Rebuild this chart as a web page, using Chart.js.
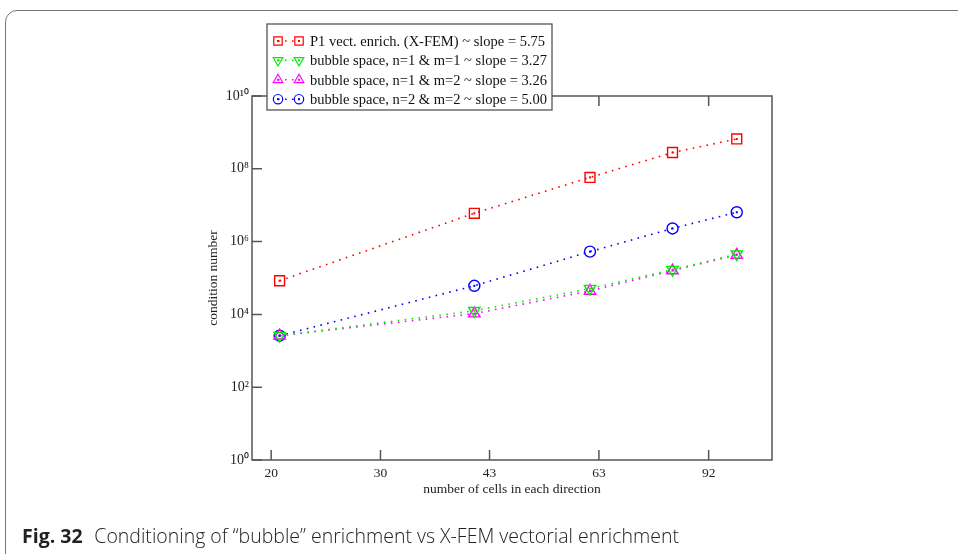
<!DOCTYPE html>
<html>
<head>
<meta charset="utf-8">
<script src="https://cdn.jsdelivr.net/npm/chart.js@4.4.0/dist/chart.umd.min.js"></script>
<style>
  body { margin: 0; background: #fff; }
  #wrap { position: relative; width: 958px; height: 554px; overflow: hidden; }
  #frame { position: absolute; left: 5px; top: 10px; width: 1000px; height: 600px; border: 1.5px solid #777; border-radius: 12px; }
  #box { position: absolute; left: 0; top: 0; width: 958px; height: 554px; }
  #caption { position: absolute; left: 22px; top: 522px; font-family: "Open Sans", sans-serif; font-size: 20px; font-weight: 300; color: #222; white-space: nowrap; transform: scaleX(0.975); transform-origin: left center; }
  #caption b { font-weight: 700; margin-right: 12px; }
</style>
</head>
<body>
<div id="wrap">
  <div id="frame"></div>
  <div id="box"><canvas id="condChart"></canvas></div>
  <div id="caption"><b>Fig. 32</b>Conditioning of “bubble” enrichment vs X-FEM vectorial enrichment</div>
</div>
<script>
const cells = [21, 41, 61, 81, 101];
const xfemP1 = [8.4e4, 6.0e6, 5.8e7, 2.8e8, 6.6e8];
const bubble11 = [2.6e3, 1.26e4, 5.1e4, 1.7e5, 4.5e5];
const bubble12 = [2.6e3, 1.05e4, 4.4e4, 1.6e5, 4.3e5];
const bubble22 = [2.6e3, 6.1e4, 5.3e5, 2.3e6, 6.4e6];

const seriesLabels = [
  'P1 vect. enrich. (X-FEM) ~ slope = 5.75',
  'bubble space, n=1 & m=1 ~ slope = 3.27',
  'bubble space, n=1 & m=2 ~ slope = 3.26',
  'bubble space, n=2 & m=2 ~ slope = 5.00'
];

const xTickValues = [20.4, 29.7, 43.2, 62.9, 91.7];
const xTickLabels = ['20', '30', '43', '63', '92'];
const yTickValues = [1, 1e2, 1e4, 1e6, 1e8, 1e10];
const yTickLabels = ['10⁰', '10²', '10⁴', '10⁶', '10⁸', '10¹⁰'];

const serif = 'Liberation Serif';

function makeSet(label, values, color, style, radius, rotation) {
  return {
    label: label,
    data: cells.map((c, i) => ({ x: c, y: values[i] })),
    borderColor: color,
    backgroundColor: 'rgba(0,0,0,0)',
    borderWidth: 1.6,
    borderDash: [1.6, 5.4],
    tension: 0,
    pointStyle: style,
    pointRadius: radius,
    pointRotation: rotation,
    pointBorderColor: color,
    pointBackgroundColor: 'rgba(0,0,0,0)',
    pointBorderWidth: 1.4
  };
}

// small marker helper for the legend
function marker(ctx, style, rotation, r, x, y) {
  ctx.beginPath();
  if (style === 'rect') {
    const s = Math.SQRT1_2 * r;
    ctx.rect(x - s, y - s, 2 * s, 2 * s);
  } else if (style === 'circle') {
    ctx.arc(x, y, r, 0, Math.PI * 2);
  } else {
    const dir = rotation ? -1 : 1;
    ctx.moveTo(x, y - dir * r);
    ctx.lineTo(x + r * 0.866, y + dir * r * 0.5);
    ctx.lineTo(x - r * 0.866, y + dir * r * 0.5);
    ctx.closePath();
  }
  ctx.stroke();
}

const frameAndLegend = {
  id: 'frameAndLegend',
  afterDatasetsDraw(chart) {
    const { ctx, chartArea: a, scales: { x, y } } = chart;
    ctx.save();

    // dot in the middle of each marker
    chart.data.datasets.forEach((ds, i) => {
      ctx.fillStyle = ds.borderColor;
      chart.getDatasetMeta(i).data.forEach(p => ctx.fillRect(p.x - 1, p.y - 1, 2, 2));
    });

    // box and inward ticks
    ctx.strokeStyle = '#555';
    ctx.lineWidth = 1.5;
    ctx.strokeRect(a.left, a.top, a.right - a.left, a.bottom - a.top);
    ctx.beginPath();
    y.ticks.forEach(t => {
      const py = y.getPixelForValue(t.value);
      ctx.moveTo(a.left, py); ctx.lineTo(a.left + 10, py);
    });
    x.ticks.forEach(t => {
      const px = x.getPixelForValue(t.value);
      ctx.moveTo(px, a.bottom); ctx.lineTo(px, a.bottom - 10);
      ctx.moveTo(px, a.top); ctx.lineTo(px, a.top + 10);
    });
    ctx.stroke();

    // legend box
    const lx = 267, ly = 24, lw = 285, lh = 86;
    ctx.fillStyle = '#fff';
    ctx.fillRect(lx, ly, lw, lh);
    ctx.strokeStyle = '#555';
    ctx.lineWidth = 1.3;
    ctx.strokeRect(lx, ly, lw, lh);
    chart.data.datasets.forEach((ds, i) => {
      const ry = ly + 17 + i * 19.4;
      ctx.strokeStyle = ds.borderColor;
      ctx.lineWidth = 1.6;
      ctx.setLineDash(ds.borderDash);
      ctx.beginPath(); ctx.moveTo(lx + 11, ry); ctx.lineTo(lx + 32, ry); ctx.stroke();
      ctx.setLineDash([]);
      ctx.lineWidth = 1.2;
      [lx + 11, lx + 32].forEach(mx => {
        marker(ctx, ds.pointStyle, ds.pointRotation, ds.pointRadius * 0.85, mx, ry);
        ctx.fillStyle = ds.borderColor;
        ctx.fillRect(mx - 1, ry - 1, 2, 2);
      });
      ctx.fillStyle = '#111';
      ctx.font = '14.5px "' + serif + '"';
      ctx.textBaseline = 'middle';
      ctx.fillText(ds.label, lx + 43, ry + 1);
    });
    ctx.restore();
  }
};

new Chart(document.getElementById('condChart').getContext('2d'), {
  type: 'line',
  data: {
    datasets: [
      makeSet(seriesLabels[0], xfemP1, '#ff0000', 'rect', 7, 0),
      makeSet(seriesLabels[1], bubble11, '#00ee00', 'triangle', 6.5, 180),
      makeSet(seriesLabels[2], bubble12, '#ff00ff', 'triangle', 6.5, 0),
      makeSet(seriesLabels[3], bubble22, '#0000ff', 'circle', 5.5, 0)
    ]
  },
  options: {
    responsive: true,
    maintainAspectRatio: false,
    animation: false,
    layout: { padding: { left: 200, top: 96, right: 186, bottom: 56 } },
    plugins: { legend: { display: false }, tooltip: { enabled: false } },
    scales: {
      x: {
        type: 'logarithmic',
        min: 19.1,
        max: 114,
        bounds: 'data',
        grid: { display: false, drawTicks: false },
        border: { display: false },
        afterBuildTicks: s => { s.ticks = xTickValues.map(v => ({ value: v })); },
        afterFit: s => { s.height = 38; },
        ticks: {
          callback: (v, i) => xTickLabels[i],
          autoSkip: false, maxRotation: 0, padding: 5,
          color: '#222', font: { family: serif, size: 13.5 }
        },
        title: {
          display: true, text: 'number of cells in each direction',
          color: '#222', font: { family: serif, size: 13.5 }, padding: { top: 0, bottom: 0 }
        }
      },
      y: {
        type: 'logarithmic',
        min: 1,
        max: 1e10,
        bounds: 'data',
        grid: { display: false, drawTicks: false },
        border: { display: false },
        afterBuildTicks: s => { s.ticks = yTickValues.map(v => ({ value: v })); },
        afterFit: s => { s.width = 52; },
        ticks: {
          callback: (v, i) => yTickLabels[i],
          autoSkip: false, padding: 3,
          color: '#222', font: { family: serif, size: 14 }
        },
        title: {
          display: true, text: 'condition number',
          color: '#222', font: { family: serif, size: 13.5 }, padding: { top: 5, bottom: 0 }
        }
      }
    }
  },
  plugins: [frameAndLegend]
});
</script>
</body>
</html>
